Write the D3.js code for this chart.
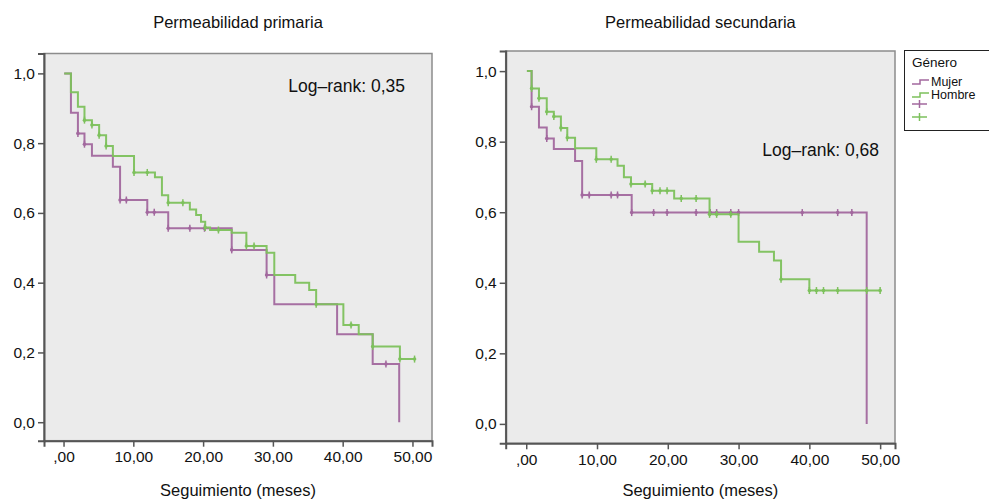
<!DOCTYPE html>
<html>
<head>
<meta charset="utf-8">
<script src="https://cdn.jsdelivr.net/npm/d3@7"></script>
<style>
  body { margin: 0; background: #fff; }
  svg { display: block; font-family: "Liberation Sans", Arial, Helvetica, sans-serif; }
  .axis path, .axis line { stroke: #555; }
  .axis text { fill: #111; }
</style>
</head>
<body>
<div id="chart"></div>
<script>
// tick values / labels
const xTicks = [0, 10, 20, 30, 40, 50];
const xTickLabels = [",00", "10,00", "20,00", "30,00", "40,00", "50,00"];
const yTicks = [0, 0.2, 0.4, 0.6, 0.8, 1.0];
const yTickLabels = ["0,0", "0,2", "0,4", "0,6", "0,8", "1,0"];

const groups = ["Mujer", "Hombre"];
const groupColors = ["#a2689e", "#7dc15c"];

// Permeabilidad primaria - Mujer
const primMujerTimes = [0.1, 1.06, 2.06, 3.0, 4.07, 7.07, 8.1, 12.0, 15.0, 24.1, 29.1, 30.2, 39.2, 44.3, 48.1];
const primMujerSurv = [1.0, 0.887, 0.828, 0.797, 0.764, 0.732, 0.637, 0.602, 0.556, 0.494, 0.422, 0.338, 0.252, 0.167, 0.0];
const primMujerCens = [2.06, 3.0, 8.1, 9.0, 12.0, 13.0, 15.0, 18.1, 20.2, 24.1, 29.1, 46.2];
const primMujerEnd = 48.1;

// Permeabilidad primaria - Hombre
const primHombreTimes = [0.1, 1.06, 2.06, 3.0, 4.07, 5.1, 6.1, 7.07, 10.1, 13.1, 14.1, 15.0, 18.1, 19.0, 19.7, 20.3, 21.0, 24.1, 26.2, 29.1, 30.2, 33.2, 35.2, 36.2, 40.1, 42.3, 44.3, 48.2];
const primHombreSurv = [1.0, 0.946, 0.904, 0.866, 0.852, 0.823, 0.792, 0.763, 0.716, 0.702, 0.651, 0.629, 0.61, 0.594, 0.575, 0.558, 0.551, 0.543, 0.505, 0.486, 0.422, 0.40, 0.379, 0.338, 0.279, 0.252, 0.217, 0.181];
const primHombreCens = [3.0, 4.07, 5.1, 6.1, 10.1, 12.0, 15.0, 17.1, 20.3, 22.2, 26.2, 27.3, 36.2, 41.2, 44.3, 48.2, 50.3];
const primHombreEnd = 50.3;

// Permeabilidad secundaria - Mujer
const secMujerTimes = [0.1, 0.76, 1.8, 2.9, 3.9, 6.9, 7.9, 14.9, 48.1];
const secMujerSurv = [1.0, 0.899, 0.840, 0.809, 0.779, 0.745, 0.649, 0.599, 0.0];
const secMujerCens = [0.76, 2.9, 7.9, 8.9, 12.0, 12.9, 14.9, 18.0, 19.9, 24.0, 26.0, 26.9, 28.9, 30.0, 39.0, 44.0, 46.0];
const secMujerEnd = 48.1;

// Permeabilidad secundaria - Hombre
const secHombreTimes = [0.1, 0.76, 1.8, 2.9, 3.9, 4.9, 5.8, 6.9, 9.9, 12.9, 13.8, 14.8, 17.8, 20.9, 25.9, 30.0, 32.9, 35.0, 36.0, 40.0];
const secHombreSurv = [1.0, 0.951, 0.923, 0.885, 0.871, 0.839, 0.811, 0.781, 0.75, 0.732, 0.699, 0.68, 0.661, 0.639, 0.594, 0.516, 0.488, 0.463, 0.41, 0.378];
const secHombreCens = [0.76, 1.8, 2.9, 3.9, 4.9, 5.8, 9.9, 12.0, 14.8, 16.8, 17.8, 18.9, 19.9, 21.9, 24.0, 25.9, 26.9, 28.9, 36.0, 40.0, 41.0, 42.0, 44.0, 48.1, 50.0];
const secHombreEnd = 50.0;

const width = 989;
const height = 499;

document.addEventListener('DOMContentLoaded', function() {
  setup();
}, false);

let setup = () => {

  const svg = d3.select("#chart").append("svg")
    .attr("width", width)
    .attr("height", height);

  let panels = [
    {
      title: "Permeabilidad primaria",
      logrank: "Log\u2013rank: 0,35",
      left: 44, right: 432, top: 53.5, bottom: 440.7,
      xDom: [-2.8, 52.8], yDom: [-0.053, 1.057],
      lrX: 405, lrY: 92,
      series: [
        { times: primMujerTimes, surv: primMujerSurv, cens: primMujerCens, end: primMujerEnd },
        { times: primHombreTimes, surv: primHombreSurv, cens: primHombreCens, end: primHombreEnd }
      ]
    },
    {
      title: "Permeabilidad secundaria",
      logrank: "Log\u2013rank: 0,68",
      left: 505.7, right: 895, top: 51, bottom: 443.3,
      xDom: [-2.9, 52.1], yDom: [-0.055, 1.057],
      lrX: 879, lrY: 156,
      series: [
        { times: secMujerTimes, surv: secMujerSurv, cens: secMujerCens, end: secMujerEnd },
        { times: secHombreTimes, surv: secHombreSurv, cens: secHombreCens, end: secHombreEnd }
      ]
    }
  ];

  panels.forEach(function(p) {
    let x = d3.scaleLinear().domain(p.xDom).range([p.left, p.right]);
    let y = d3.scaleLinear().domain(p.yDom).range([p.bottom, p.top]);
    let cx = (p.left + p.right) / 2;

    // plot background + frame
    svg.append("rect")
      .attr("x", p.left)
      .attr("y", p.top)
      .attr("width", p.right - p.left)
      .attr("height", p.bottom - p.top)
      .attr("fill", "#ebebeb")
      .attr("stroke", "#8c8c8c")
      .attr("stroke-width", 1.5);

    let xAxis = d3.axisBottom(x)
      .tickValues(xTicks)
      .tickSizeOuter(0)
      .tickSize(6)
      .tickFormat(function(d, i) { return xTickLabels[i]; });

    let yAxis = d3.axisLeft(y)
      .tickValues(yTicks)
      .tickSizeOuter(0)
      .tickSize(6)
      .tickFormat(function(d, i) { return yTickLabels[i]; });

    let gx = svg.append("g")
      .attr("class", "axis x")
      .attr("transform", "translate(0," + p.bottom + ")")
      .call(xAxis);
    gx.select(".domain").attr("stroke-width", 2);
    gx.selectAll(".tick line").attr("stroke-width", 1.5);
    gx.selectAll("text").attr("font-size", 15.5).attr("dy", "0.8em");

    let gy = svg.append("g")
      .attr("class", "axis y")
      .attr("transform", "translate(" + p.left + ",0)")
      .call(yAxis);
    gy.select(".domain").attr("stroke-width", 2);
    gy.selectAll(".tick line").attr("stroke-width", 1.5);
    gy.selectAll("text").attr("font-size", 15.5).attr("x", -9);

    p.series.forEach(function(s, k) {
      let pts = s.times.map(function(t, i) { return [t, s.surv[i]]; });
      pts.push([s.end, s.surv[s.surv.length - 1]]);

      let line = d3.line()
        .x(function(d) { return x(d[0]); })
        .y(function(d) { return y(d[1]); })
        .curve(d3.curveStepAfter);

      svg.append("path")
        .datum(pts)
        .attr("fill", "none")
        .attr("stroke", groupColors[k])
        .attr("stroke-width", 2)
        .attr("stroke-opacity", 0.95)
        .attr("d", line);

      let survAt = function(t) {
        let v = s.surv[0];
        for (let i = 0; i < s.times.length; i++) {
          if (s.times[i] <= t + 1e-9) v = s.surv[i];
        }
        return v;
      };

      let cg = svg.append("g").attr("stroke", groupColors[k]).attr("fill", groupColors[k]);
      s.cens.forEach(function(t) {
        let px = x(t), py = y(survAt(t));
        cg.append("line")
          .attr("x1", px).attr("x2", px)
          .attr("y1", py - 3.5).attr("y2", py + 3.5)
          .attr("stroke-width", 1.5);
        cg.append("circle")
          .attr("cx", px).attr("cy", py)
          .attr("r", 1.8)
          .attr("stroke", "none");
      });
    });

    svg.append("text")
      .attr("x", p.lrX)
      .attr("y", p.lrY)
      .attr("text-anchor", "end")
      .attr("font-size", 17.5)
      .attr("fill", "#111")
      .text(p.logrank);

    svg.append("text")
      .attr("x", cx)
      .attr("y", 28)
      .attr("text-anchor", "middle")
      .attr("font-size", 16.5)
      .attr("fill", "#111")
      .text(p.title);

    svg.append("text")
      .attr("x", cx)
      .attr("y", 496)
      .attr("text-anchor", "middle")
      .attr("font-size", 16.5)
      .attr("fill", "#111")
      .text("Seguimiento (meses)");
  });

  // legend
  let lg = svg.append("g");
  lg.append("rect")
    .attr("x", 904.5)
    .attr("y", 50.5)
    .attr("width", 100)
    .attr("height", 80)
    .attr("fill", "#fff")
    .attr("stroke", "#222")
    .attr("stroke-width", 1);

  lg.append("text")
    .attr("x", 912)
    .attr("y", 67)
    .attr("font-size", 13.5)
    .attr("fill", "#111")
    .text("Género");

  groups.forEach(function(g, i) {
    let yy = 81 + i * 13;
    lg.append("path")
      .attr("d", "M912," + (yy + 3) + "H920V" + (yy - 1) + "H929")
      .attr("fill", "none")
      .attr("stroke", groupColors[i])
      .attr("stroke-width", 1.5);
    lg.append("text")
      .attr("x", 931)
      .attr("y", yy + 4.5)
      .attr("font-size", 12.5)
      .attr("fill", "#111")
      .text(g);

    let cy = 104 + i * 13;
    lg.append("line")
      .attr("x1", 912).attr("x2", 927)
      .attr("y1", cy).attr("y2", cy)
      .attr("stroke", groupColors[i])
      .attr("stroke-width", 1.5);
    lg.append("line")
      .attr("x1", 919.5).attr("x2", 919.5)
      .attr("y1", cy - 4).attr("y2", cy + 4)
      .attr("stroke", groupColors[i])
      .attr("stroke-width", 1.5);
  });
}
</script>
</body>
</html>
